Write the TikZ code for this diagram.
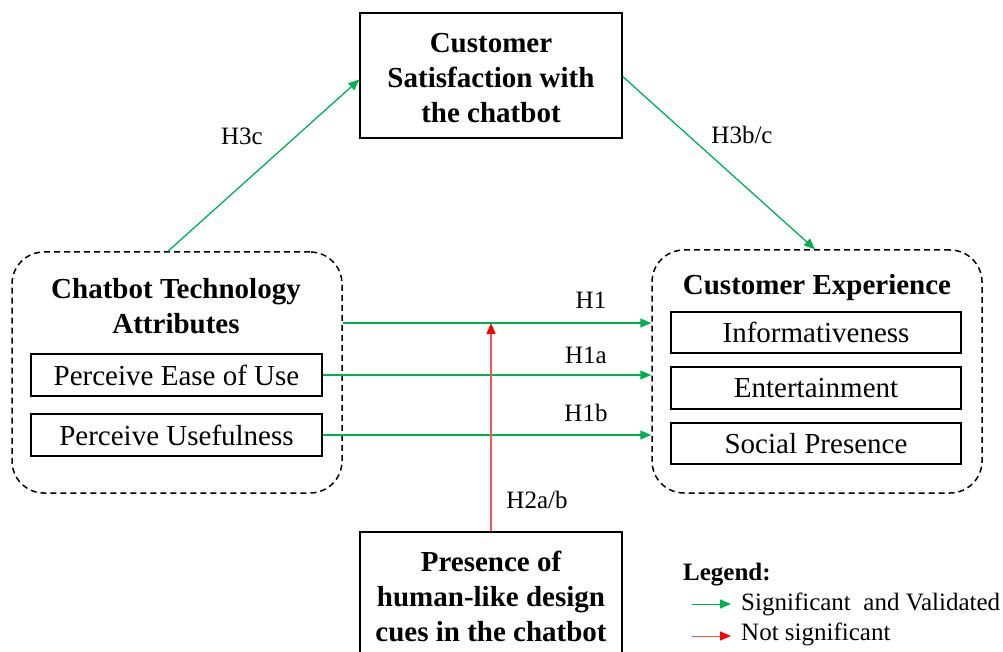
\documentclass[tikz,border=0pt]{standalone}
\usepackage{fontspec}
\setmainfont{Liberation Serif}
\usetikzlibrary{arrows.meta,calc}
\definecolor{sig}{RGB}{0,176,80}
\definecolor{nsig}{RGB}{255,0,0}
\definecolor{nsigline}{RGB}{240,90,90}
\begin{document}
\begin{tikzpicture}[x=1pt,y=-1pt,
  box/.style={draw,line width=1.3pt,inner sep=0pt,align=center},
  group/.style={draw,line width=1.5pt,dash pattern=on 6pt off 4pt,rounded corners=32pt,inner sep=0pt},
  big/.style={font=\fontsize{29}{35}\selectfont},
  bigb/.style={font=\fontsize{29}{35}\selectfont\bfseries,align=center,inner sep=0pt},
  lab/.style={font=\fontsize{25}{30}\selectfont,inner sep=0pt},
  sigarrow/.style={draw=sig,line width=1.3pt,-{Triangle[length=11pt,width=9pt]}},
  nsarrow/.style={draw=nsigline,line width=1.4pt,-{Triangle[length=11pt,width=9pt,color=nsig]}}]
\useasboundingbox (0,0) rectangle (1003,652);
\clip (0,0) rectangle (1003,652);
% boxes
\node[box,minimum width=262pt,minimum height=125pt] (sat) at (491,75.5) {};
\node[bigb] (sattxt) at (491,78) {Customer\\Satisfaction with\\the chatbot};
\node[group,minimum width=330pt,minimum height=241pt] (left) at (177,372.5) {};
\node[bigb] (lefttxt) at (176,306) {Chatbot Technology\\Attributes};
\node[box,big,minimum width=291pt,minimum height=42pt] (peu) at (176.5,375) {Perceive Ease of Use};
\node[box,big,minimum width=291pt,minimum height=42pt] (pu) at (176.5,435) {Perceive Usefulness};
\node[group,minimum width=330pt,minimum height=243pt] (right) at (817,371.5) {};
\node[bigb] (righttxt) at (817,288) {Customer Experience};
\node[box,big,minimum width=290pt,minimum height=41pt] (info) at (816,332.5) {Informativeness};
\node[box,big,minimum width=290pt,minimum height=42pt] (ent) at (816,388) {Entertainment};
\node[box,big,minimum width=290pt,minimum height=41pt] (soc) at (816,443.5) {Social Presence};
\node[box,minimum width=262pt,minimum height=150pt] (hum) at (491,607) {};
\node[bigb] (humtxt) at (491,596) {Presence of\\human-like design\\cues in the chatbot};
% arrows
\coordinate (h1s) at ($(left.east)+(0,-49.5)$);
\coordinate (h1e) at ($(right.west)+(0,-48.5)$);
\draw[sigarrow] ($(left.north)+(-9,0)$) -- ($(sat.west)+(0,4)$);
\draw[sigarrow] ($(sat.east)+(0,1)$) -- ($(right.north)+(-2,0)$);
\draw[sigarrow] (h1s) -- (h1e);
\draw[sigarrow] (peu.east) -- (peu.east -| right.west);
\draw[sigarrow] (pu.east) -- (pu.east -| right.west);
\draw[nsarrow] (hum.north) -- (hum.north |- h1s);
% labels
\node[lab] (l3c) at (242,136) {H3c};
\node[lab] (l3bc) at (742,135) {H3b/c};
\node[lab] (l1) at (591,300) {H1};
\node[lab] (l1a) at (586,355) {H1a};
\node[lab] (l1b) at (586,413) {H1b};
\node[lab] (l2ab) at (537,500) {H2a/b};
% legend
\node[lab,font=\fontsize{25}{30}\selectfont\bfseries,anchor=west] (leg) at (683,575) {Legend:};
\coordinate (g1) at (692,604);
\coordinate (g2) at (731,604);
\coordinate (r1) at (692,636);
\coordinate (r2) at (731,636);
\draw[sigarrow,line width=1pt] (g1) -- (g2);
\draw[nsarrow,line width=1pt] (r1) -- (r2);
\node[lab,anchor=west] (legs) at (741,604) {Significant\ \ and Validated};
\node[lab,anchor=west] (legn) at (741,634) {Not significant};
\end{tikzpicture}
\end{document}
